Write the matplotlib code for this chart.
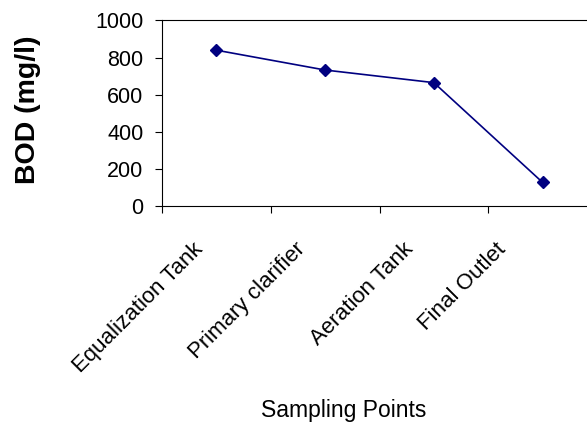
import matplotlib
matplotlib.use("Agg")
import matplotlib.pyplot as plt
import numpy as np

categories = ["Equalization Tank", "Primary clarifier", "Aeration Tank", "Final Outlet"]
bod_values = [840, 733, 665, 127]
y_ticks = [0, 200, 400, 600, 800, 1000]

plt.rcParams['font.family'] = ['Liberation Sans', 'DejaVu Sans']

W, H = 587, 425
fig = plt.figure(figsize=(W / 100, H / 100), dpi=100)
fig.patch.set_facecolor('white')
ax = fig.add_axes([162 / W, 1 - 206 / H, 435 / W, 185.5 / H])

x = np.arange(len(categories))
ax.plot(x, bod_values, color='#000080', linewidth=1.2, marker='D',
        markersize=5.8, markerfacecolor='#000080', markeredgecolor='#000080',
        clip_on=False, zorder=3)

ax.set_xlim(-0.5, len(categories) - 0.5)
ax.set_ylim(0, 1000)
ax.set_yticks(y_ticks)
ax.set_yticklabels([str(v) for v in y_ticks], fontsize=15.5)
ax.tick_params(axis='y', direction='out', length=5, width=0.8, pad=8.5, colors='black')

ax.set_xticks(x)
ax.set_xticklabels([])
ax.tick_params(axis='x', which='major', length=0)
ax.set_xticks(np.arange(-0.5, len(categories), 1.0), minor=True)
ax.tick_params(axis='x', which='minor', direction='out', length=5, width=0.8)

for s in ['left', 'bottom', 'top']:
    ax.spines[s].set_linewidth(0.8)
    ax.spines[s].set_color('black')
ax.spines['right'].set_visible(False)

offsets = [(-24, -33), (-30, -33), (-31, -33), (-47, -33)]
for i, (cat, (dx, dy)) in enumerate(zip(categories, offsets)):
    ax.annotate(cat, xy=(i, 0), xycoords=('data', 'axes fraction'),
                xytext=(dx, dy), textcoords='offset pixels',
                rotation=45, rotation_mode='anchor', ha='right', va='top',
                fontsize=16)

fig.text(344 / W, 1 - 417 / H, "Sampling Points", ha='center', va='baseline', fontsize=16.5)
fig.text(28 / W, 1 - 110 / H, "BOD (mg/l)", ha='center', va='center', rotation=90,
         fontsize=20.5, fontweight='bold')

fig.savefig("out.png", dpi=100)
